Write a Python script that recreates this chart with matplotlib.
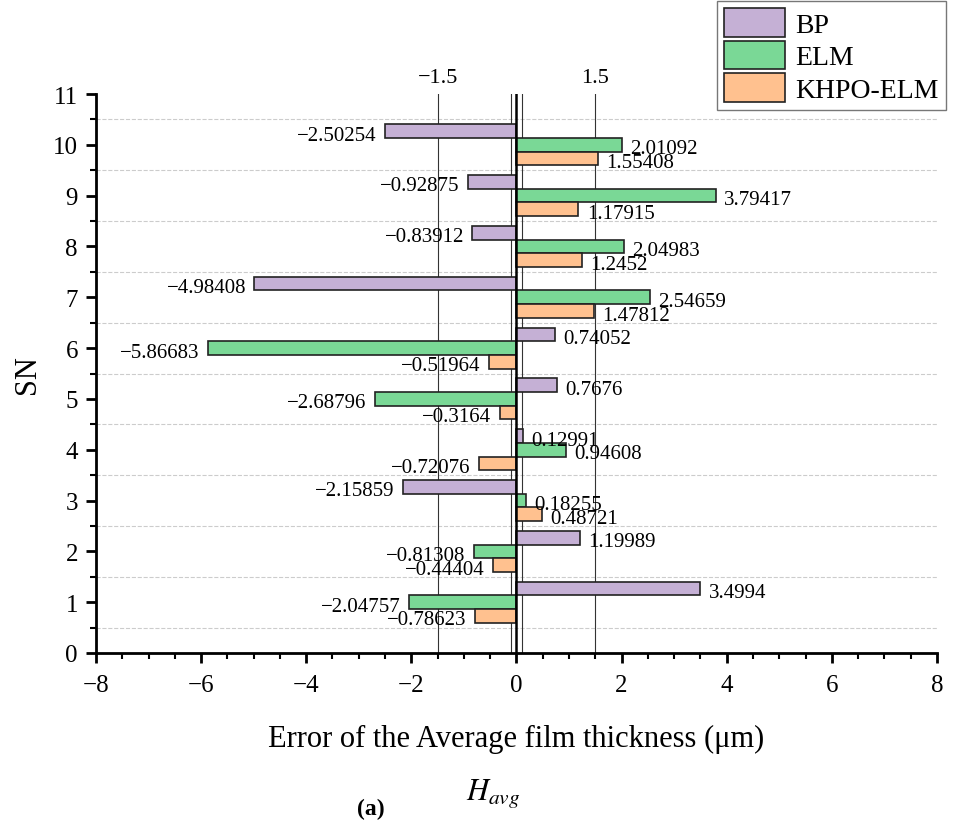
import matplotlib.pyplot as plt
import numpy as np
from matplotlib.ticker import MultipleLocator
from matplotlib.transforms import blended_transform_factory

plt.rcParams['font.family'] = ['Liberation Serif', 'DejaVu Serif']
plt.rcParams['mathtext.fontset'] = 'stix'

# data
sn = np.arange(1, 11)
bp = [3.4994, 1.19989, -2.15859, 0.12991, 0.7676, 0.74052, -4.98408, -0.83912, -0.92875, -2.50254]
elm = [-2.04757, -0.81308, 0.18255, 0.94608, -2.68796, -5.86683, 2.54659, 2.04983, 3.79417, 2.01092]
khpo = [-0.78623, -0.44404, 0.48721, -0.72076, -0.3164, -0.51964, 1.47812, 1.2452, 1.17915, 1.55408]
names = ['BP', 'ELM', 'KHPO-ELM']
colors = ['#c5b0d5', '#7ad896', '#ffc18f']
ref_lines = [-1.5, 1.5]

fig = plt.figure(figsize=(9.57, 8.29), dpi=100)
ax = fig.add_axes([0.1003, 0.2111, 0.8787, 0.6743])

h = 0.27
offsets = [h, 0, -h]
for vals, name, col, off in zip([bp, elm, khpo], names, colors, offsets):
    y = sn + off
    ax.barh(y, vals, height=h, color=col, edgecolor='#222222', linewidth=1.2, label=name, zorder=3)
    for yi, v in zip(y, vals):
        txt = f'{v:g}'.replace('-', '\u2212')
        if v >= 0:
            ax.annotate(txt, (v, yi - 0.08), xytext=(6, 0), textcoords='offset points',
                        ha='left', va='center', fontsize=15, zorder=4)
        else:
            ax.annotate(txt, (v, yi - 0.08), xytext=(-6, 0), textcoords='offset points',
                        ha='right', va='center', fontsize=15, zorder=4)

# reference lines
for xv in ref_lines:
    ax.axvline(xv, color='#333333', linewidth=0.8, zorder=2)
tr = blended_transform_factory(ax.transData, ax.transAxes)
for xv in ref_lines:
    ax.text(xv, 1.012, f'{xv:g}'.replace('-', '\u2212'), transform=tr, ha='center', va='bottom', fontsize=16)
for xv in [-0.1, 0.1]:
    ax.axvline(xv, color='#333333', linewidth=0.8, zorder=2)
ax.axvline(0, color='black', linewidth=1.8, zorder=5)

# horizontal grid at half steps
for yv in np.arange(0.5, 11, 1.0):
    ax.axhline(yv, color='#cccccc', linestyle='--', linewidth=0.8, zorder=1)

ax.set_xlim(-8, 8)
ax.set_ylim(0, 11)
ax.xaxis.set_major_locator(MultipleLocator(2))
ax.xaxis.set_minor_locator(MultipleLocator(0.5))
ax.yaxis.set_major_locator(MultipleLocator(1))
ax.yaxis.set_minor_locator(MultipleLocator(0.5))
ax.tick_params(which='major', direction='out', length=7, width=2, labelsize=18, pad=6)
ax.tick_params(axis='x', which='major', pad=8)
ax.tick_params(which='minor', direction='out', length=4, width=1.5)
ax.spines['top'].set_visible(False)
ax.spines['right'].set_visible(False)
ax.spines['left'].set_linewidth(2)
ax.spines['bottom'].set_linewidth(2)
ax.xaxis.set_major_formatter(plt.FuncFormatter(lambda v, p: f'{v:g}'.replace('-', '\u2212')))

ax.set_xlabel('Error of the Average film thickness (μm)', fontsize=22, labelpad=20)
ax.set_ylabel('SN', fontsize=22, labelpad=8)

fig.legend(loc='upper right', bbox_to_anchor=(0.988, 0.997), fontsize=20, frameon=True,
           fancybox=False, edgecolor='#555555', handlelength=2.2, handleheight=1.2,
           labelspacing=0.1, borderpad=0.25, handletextpad=0.35, borderaxespad=0)

fig.text(0.387, 0.023, '(a)', fontsize=17, fontweight='bold', ha='center', va='center')
fig.text(0.515, 0.043, r'$H_{avg}$', fontsize=22, ha='center', va='center')

plt.savefig('out.png', dpi=100)
